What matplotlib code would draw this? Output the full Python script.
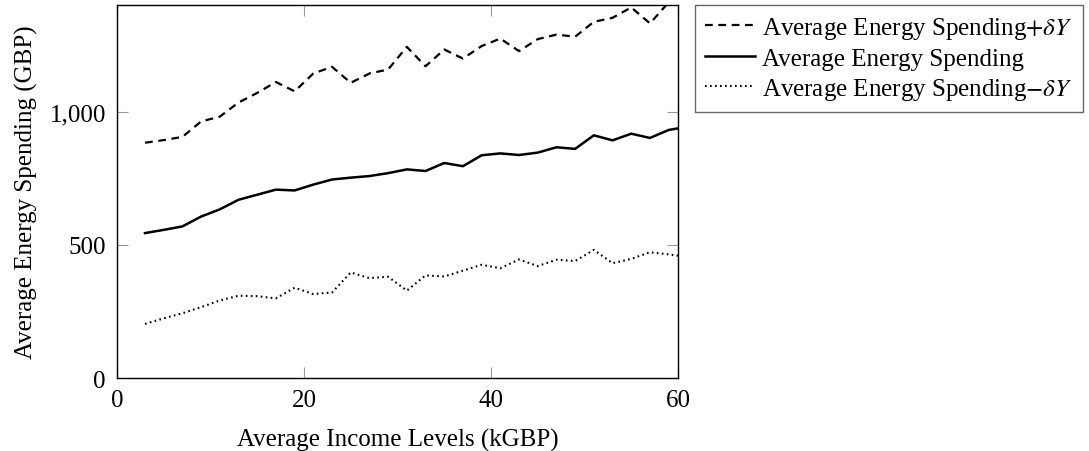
import matplotlib
matplotlib.use("Agg")
import matplotlib.pyplot as plt
from matplotlib.ticker import FuncFormatter

# income levels (kGBP)
income = [3, 5, 7, 9, 11, 13, 15, 17, 19, 21, 23, 25, 27, 29, 31,
          33, 35, 37, 39, 41, 43, 45, 47, 49, 51, 53, 55, 57, 59, 61]

spend_upper = [883, 893, 905, 963, 981, 1034, 1070, 1111, 1076, 1143,
               1168, 1108, 1143, 1158, 1243, 1170, 1233, 1199, 1246, 1274,
               1227, 1272, 1289, 1281, 1337, 1352, 1391, 1331, 1410, 1480]
spend_mean = [544, 556, 569, 606, 633, 669, 688, 707, 704, 726,
              745, 752, 758, 769, 783, 777, 807, 795, 836, 843,
              837, 846, 866, 860, 911, 892, 917, 901, 931, 943]
spend_lower = [203, 224, 243, 266, 291, 309, 307, 299, 339, 315,
               321, 396, 375, 380, 328, 385, 381, 403, 425, 412,
               445, 420, 444, 439, 481, 431, 447, 472, 464, 454]

plt.rcParams["font.family"] = ["Liberation Serif", "DejaVu Serif"]
plt.rcParams["mathtext.fontset"] = "stix"
fs = 18

fig = plt.figure(figsize=(10.89, 4.52), dpi=100)
ax = fig.add_axes([0.1074, 0.1615, 0.5152, 0.8252])

ax.plot(income, spend_upper, color="black", lw=1.6, linestyle=(0, (3.5, 2.5)),
        label=r"Average Energy Spending$+\delta Y$")
ax.plot(income, spend_mean, color="black", lw=1.8,
        label="Average Energy Spending")
ax.plot(income, spend_lower, color="black", lw=1.5, linestyle=(0, (0.8, 1.6)),
        label=r"Average Energy Spending$-\delta Y$")

ax.set_xlim(0, 60)
ax.set_ylim(0, 1400)
ax.set_xticks([0, 20, 40, 60])
ax.set_yticks([0, 500, 1000])
ax.yaxis.set_major_formatter(FuncFormatter(lambda v, p: f"{int(v):,}"))
ax.tick_params(direction="in", length=8, width=0.8, color="#999999",
               top=True, right=True, labelsize=fs)
ax.tick_params(axis="x", pad=8)
ax.tick_params(axis="y", pad=8)
for s in ax.spines.values():
    s.set_linewidth(1.0)

ax.set_xlabel("Average Income Levels (kGBP)", fontsize=fs, labelpad=12)
ax.set_ylabel("Average Energy Spending (GBP)", fontsize=fs, labelpad=8)

leg = ax.legend(loc="upper left", bbox_to_anchor=(1.03, 1.0), fontsize=fs,
                frameon=True, fancybox=False, edgecolor="#444444",
                handlelength=2.0, handletextpad=0.3, borderpad=0.4,
                labelspacing=0.25, borderaxespad=0)
leg.get_frame().set_linewidth(1.0)

fig.savefig("out.png", dpi=100)
